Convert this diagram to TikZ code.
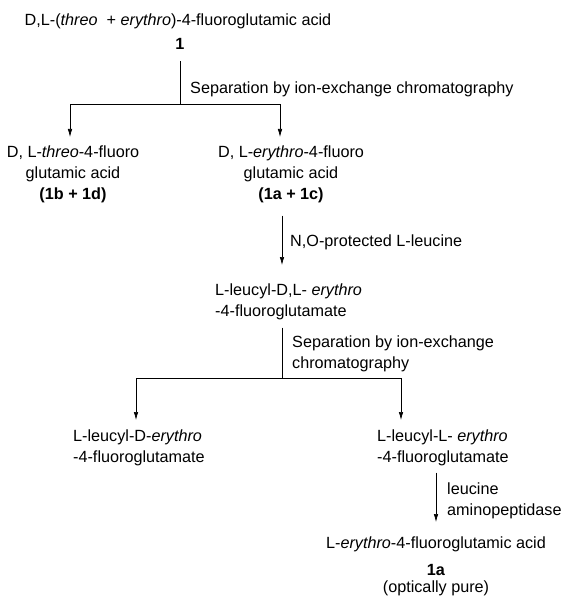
\documentclass[tikz,border=0pt]{standalone}
\usepackage{fontspec}
\setmainfont{Liberation Sans}
\usetikzlibrary{arrows.meta}

\begin{document}
\begin{tikzpicture}[x=1pt, y=-1pt]
\tikzstyle{txt}=[inner sep=0pt, font=\fontsize{16.2}{21}\selectfont]
\tikzstyle{arr}=[-{Latex[length=8pt,width=4.5pt]}, line width=0.7pt]
\useasboundingbox (0,0) rectangle (572,596);

\node[txt, anchor=base] (rac) at (178,26) {D,L-(\textit{threo}\ \ + \textit{erythro})-4-fluoroglutamic acid};
\node[txt, anchor=base] (one) at (180,50) {\textbf{1}};
\node[txt, anchor=base west] (sep1) at (190,94) {Separation by ion-exchange chromatography};
\node[txt, anchor=north, align=center] (threo) at (73,146) {D, L-\textit{threo}-4-fluoro\\glutamic acid\\\textbf{(1b + 1d)}};
\node[txt, anchor=north, align=center] (ery) at (291,146) {D, L-\textit{erythro}-4-fluoro\\glutamic acid\\\textbf{(1a + 1c)}};
\node[txt, anchor=base west] (prot) at (290,246) {N,O-protected L-leucine};
\node[txt, anchor=north west, align=left] (leu) at (215,284) {L-leucyl-D,L- \textit{erythro}\\-4-fluoroglutamate};
\node[txt, anchor=north west, align=left] (sep2) at (292,336) {Separation by ion-exchange\\chromatography};
\node[txt, anchor=north west, align=left] (leuD) at (73,430) {L-leucyl-D-\textit{erythro}\\-4-fluoroglutamate};
\node[txt, anchor=north west, align=left] (leuL) at (377,430) {L-leucyl-L- \textit{erythro}\\-4-fluoroglutamate};
\node[txt, anchor=north west, align=left] (enz) at (447,483) {leucine\\aminopeptidase};
\node[txt, anchor=north, align=center] (prod) at (436,537) {L-\textit{erythro}-4-fluoroglutamic acid\\[6pt]\textbf{1a}\\[-4pt](optically pure)};

% first separation
\coordinate (f1) at (180,104);
\coordinate (f1l) at (70,104);
\coordinate (f1r) at (280,104);
\draw[line width=0.7pt, shorten <=11pt] (one.south) -- (f1);
\draw[arr, shorten >=9pt] (f1) -- (f1l) -- (f1l |- threo.north);
\draw[arr, shorten >=9pt] (f1) -- (f1r) -- (f1r |- ery.north);

% coupling
\draw[arr, shorten <=12pt, shorten >=19pt] ([xshift=-9pt]ery.south) -- ([xshift=-9pt]ery.south |- leu.north);

% second separation
\coordinate (f2) at (282,378);
\coordinate (f2l) at (136,378);
\coordinate (f2r) at (401,378);
\draw[line width=0.7pt, shorten <=7pt] (leu.south -| f2) -- (f2);
\draw[arr, shorten >=10pt] (f2) -- (f2l) -- (f2l |- leuD.north);
\draw[arr, shorten >=10pt] (f2) -- (f2r) -- (f2r |- leuL.north);

% enzyme
\draw[arr, shorten <=6pt, shorten >=15pt] (leuL.south -| prod.north) -- (prod.north);
\end{tikzpicture}
\end{document}
